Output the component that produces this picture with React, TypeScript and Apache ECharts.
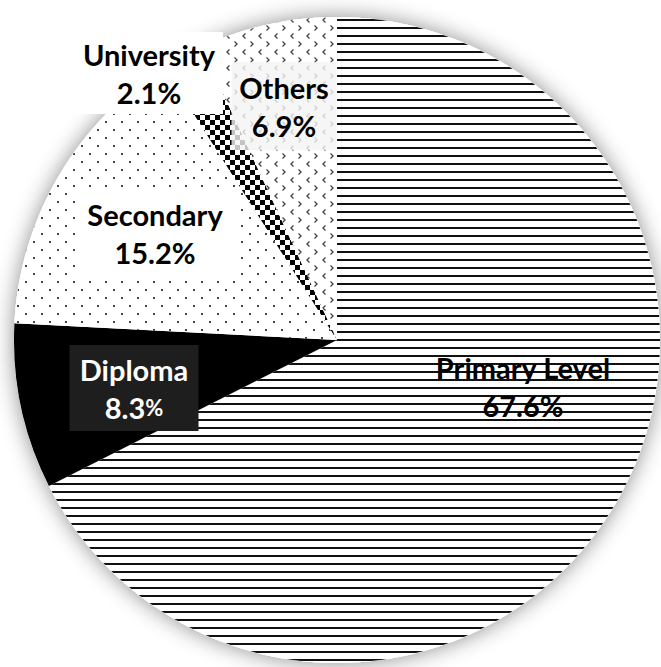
import React, { useEffect, useRef } from "react";
import * as echarts from "echarts";

// ---- data ----
const categories = ["Primary Level", "Diploma", "Secondary", "University", "Others"];
const shares = [67.6, 8.3, 15.2, 2.1, 6.9];

// ---- styling (kept apart from data) ----
const svgUrl = (w: number, h: number, body: string) =>
  "data:image/svg+xml;charset=utf-8," +
  encodeURIComponent(
    `<svg xmlns="http://www.w3.org/2000/svg" width="${w}" height="${h}" viewBox="0 0 ${w} ${h}" shape-rendering="crispEdges">${body}</svg>`
  );

const pattern = (w: number, h: number, body: string) => ({
  image: svgUrl(w, h, body),
  repeat: "repeat",
  imageWidth: w,
  imageHeight: h,
});

const fills: any[] = [
  pattern(8, 8, `<rect width="8" height="8" fill="#fff"/><rect x="0" y="3" width="8" height="2" fill="#111"/>`),
  "#000000",
  pattern(16, 16, `<rect width="16" height="16" fill="#fff"/><rect x="1" y="1" width="2" height="2" fill="#444"/><rect x="9" y="9" width="2" height="2" fill="#444"/>`),
  pattern(10, 10, `<rect width="10" height="10" fill="#fff"/><rect x="0" y="0" width="5" height="5" fill="#000"/><rect x="5" y="5" width="5" height="5" fill="#000"/>`),
  pattern(
    16,
    16,
    `<rect width="16" height="16" fill="#fff"/><polyline points="5.5,1.5 3,4 5.5,6.5" fill="none" stroke="#444" stroke-width="1.3" shape-rendering="auto"/><polyline points="10.5,9.5 13,12 10.5,14.5" fill="none" stroke="#444" stroke-width="1.3" shape-rendering="auto"/>`
  ),
];

const labelBoxes: any[] = [
  { cx: 523, cy: 386, bg: "transparent", color: "#000", width: 210, pad: [0, 0], smallPct: false },
  { cx: 134, cy: 388, bg: "#1e1e1e", color: "#fff", width: 129, pad: [5, 0], smallPct: true },
  { cx: 155, cy: 233, bg: "#ffffff", color: "#000", width: 160, pad: [8, 0], smallPct: false },
  { cx: 149, cy: 73, bg: "#ffffff", color: "#000", width: 148, pad: [3, 0], smallPct: false },
  { cx: 284, cy: 106, bg: "rgba(244,244,244,0.8)", color: "#000", width: 105, pad: [6, 0], smallPct: false },
];

const CENTER: [number, number] = [337, 340];
const RADIUS = 323;
const FONT = "Lato, 'Noto Sans', sans-serif";

export default function App() {
  const ref = useRef<HTMLDivElement>(null);

  useEffect(() => {
    if (!ref.current) return;
    const chart = echarts.init(ref.current, null, { renderer: "svg" });

    const data = categories.map((name, i) => {
      const c = labelBoxes[i].color;
      return {
        name,
        value: shares[i],
        itemStyle: { color: fills[i] },
        label: {
          backgroundColor: labelBoxes[i].bg,
          color: c,
          width: labelBoxes[i].width,
          padding: labelBoxes[i].pad,
          rich: {
            n: { fontFamily: FONT, fontWeight: "bold", fontSize: 29, lineHeight: 38, color: c },
            p: { fontFamily: FONT, fontWeight: "bold", fontSize: labelBoxes[i].smallPct ? 22 : 29, lineHeight: 38, color: c },
          },
        },
      };
    });

    chart.setOption({
      animation: false,
      backgroundColor: "#ffffff",
      series: [
        {
          type: "pie",
          z: 1,
          silent: true,
          center: CENTER,
          radius: RADIUS,
          label: { show: false },
          labelLine: { show: false },
          itemStyle: {
            color: "#ffffff",
            shadowBlur: 22,
            shadowColor: "rgba(0,0,0,0.45)",
          },
          data: [{ value: 1, name: "bg" }],
        },
        {
          type: "pie",
          z: 2,
          silent: true,
          center: CENTER,
          radius: RADIUS,
          startAngle: 90,
          clockwise: true,
          avoidLabelOverlap: false,
          itemStyle: { borderWidth: 0 },
          labelLine: { show: false },
          label: {
            show: true,
            position: "inside",
            formatter: (p: any) => `{n|${p.name}}\n{n|${p.value.toFixed(1)}}{p|%}`,
            fontFamily: FONT,
            fontWeight: "bold",
            fontSize: 29,
            lineHeight: 38,
            align: "center",
          },
          labelLayout: (params: any) => {
            const b = labelBoxes[params.dataIndex];
            return { x: b.cx, y: b.cy, align: "center", verticalAlign: "middle" };
          },
          data,
        },
      ],
    });

    return () => chart.dispose();
  }, []);

  return (
    <div
      ref={ref}
      style={{ position: "fixed", left: 0, top: 0, width: 661, height: 667 }}
    />
  );
}
